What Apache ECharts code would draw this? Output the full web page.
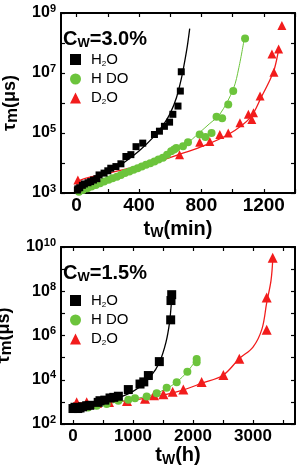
<!DOCTYPE html>
<html><head><meta charset="utf-8">
<script src="https://cdn.jsdelivr.net/npm/echarts@6/dist/echarts.min.js"></script>
<style>html,body{margin:0;padding:0;background:#fff}#c{width:301px;height:468px}</style>
</head><body><div id="c"></div>
<script>
// ---------- data: top panel (C_W = 3.0 %, t_w in min, tau in µs) ----------
var topH2O = [[5,1250],[8,1380],[20,1500],[37,1800],[50,2000],[73,2200],[90,2400],[108,2700],[130,3000],[144,4000],[176,4600],[200,5500],[219,6700],[252,7600],[284,9400],[316,16500],[348,19000],[381,35000],[424,46000],[499,89000],[531,115000],[563,167000],[596,230000],[617,420000],[650,790000],[665,2.5e6],[671,1.1e7]];
var topHDO = [[15,1100],[40,1250],[69,1440],[95,1650],[123,1860],[150,2100],[176,2400],[205,2750],[230,3100],[258,3500],[284,4000],[310,4600],[338,5200],[365,6000],[391,6700],[418,7700],[445,8700],[472,9900],[499,11200],[525,13000],[553,15000],[580,19000],[606,24500],[625,28000],[639,31500],[682,36000],[714,49000],[789,89000],[826,74000],[865,100000],[897,350000],[933,310000],[972,890000],[1004,2.5e6],[1080,1.4e8]];
var topD2O = [[8,2700],[660,19000],[789,49000],[854,52000],[918,89000],[972,100000],[1047,220000],[1101,420000],[1123,280000],[1134,470000],[1176,1.7e6],[1265,1.05e7],[1252,4.3e7],[1295,6.3e7],[1316,3.8e8]];
var topFitH2O = [[0,1200],[100,2400],[200,4800],[300,10000],[400,25000],[500,80000],[560,200000],[600,450000],[640,1.5e6],[670,6e6],[690,2e7],[710,8e7],[725,3e8]];
var topFitHDO = [[0,1000],[200,2600],[400,7000],[600,22000],[700,42000],[785,100000],[850,200000],[918,420000],[1004,2.9e6],[1040,1.5e7],[1075,1.4e8]];
var topFitD2O = [[0,2300],[50,3000],[150,4000],[300,6000],[500,10500],[640,18000],[800,35000],[972,89000],[1112,320000],[1187,1.7e6],[1240,6e6],[1270,1.5e7],[1295,6e7]];
var topXTicks = [0,200,400,600,800,1000,1200,1400];
var topXLabels = [0,400,800,1200];
var topYTicks = [1e3,1e4,1e5,1e6,1e7,1e8,1e9];
var topYLabels = [1e3,1e5,1e7,1e9];

// ---------- data: bottom panel (C_W = 1.5 %, t_w in h) ----------
var botH2O = [[0,500],[33,570],[80,500],[117,530],[160,600],[228,670],[280,700],[420,950],[450,1130],[530,1200],[617,1500],[680,1600],[756,1800],[922,3600],[1117,6400],[1180,8000],[1256,15500],[1439,66000],[1628,5.1e6],[1633,3.8e7],[1645,7e7]];
var botHDO = [[100,480],[250,560],[395,670],[562,800],[756,1130],[922,1250],[1033,1450],[1228,1740],[1395,2450],[1561,4300],[1728,7700],[1906,23000],[2061,62000],[2061,87000]];
var botD2O = [[61,960],[228,960],[400,900],[600,1000],[900,1100],[1200,1400],[1350,2000],[1506,2200],[1661,2900],[1839,3600],[2144,8000],[2506,16500],[2772,90000],[3228,1.8e6],[3228,5.2e7],[3328,3.3e9]];
var botFitH2O = [[0,450],[300,650],[600,1100],[900,2200],[1100,4500],[1300,15000],[1440,60000],[1550,500000],[1610,4e6],[1640,3e7],[1655,8e7]];
var botFitHDO = [[0,450],[500,750],[1000,1350],[1300,2000],[1560,4000],[1730,8000],[1900,22000],[2060,85000]];
var botFitD2O = [[0,900],[500,950],[1000,1200],[1500,2000],[1800,3200],[2150,7000],[2500,16000],[2772,90000],[3000,300000],[3150,2e6],[3228,3e7],[3300,3e8],[3330,3e9]];
var botXTicks = [0,500,1000,1500,2000,2500,3000,3500];
var botXLabels = [0,1000,2000,3000];
var botYTicks = [1e2,1e3,1e4,1e5,1e6,1e7,1e8,1e9,1e10];
var botYLabels = [1e2,1e4,1e6,1e8,1e10];

var seriesNames = ['H2O','HDO','D2O'];
var COL = {H2O:'#000000', HDO:'#6cc43c', D2O:'#f21c1c'};
var FONT = 'Liberation Sans, Arial, sans-serif';

var chart = echarts.init(document.getElementById('c'), null, {renderer:'canvas'});

function xAxisDef(gi, min, max, ticks, labels, fs, margin, name, gap, mirror) {
  return {
    type:'value', gridIndex:gi, min:min, max:max, position: mirror ? 'top' : 'bottom',
    splitLine:{show:false},
    axisLine:{show:true, onZero:false, lineStyle:{color:'#000', width:2}},
    axisTick:{show:true, inside:true, length:4, customValues:ticks, lineStyle:{color:'#000', width:1.2}},
    axisLabel:{show:!mirror, customValues:labels, margin:margin, color:'#000', fontFamily:FONT, fontWeight:'bold', fontSize:fs,
      formatter:function(v){ return String(v); }},
    name: mirror ? '' : name, nameLocation:'middle', nameGap: gap,
    nameTextStyle:{color:'#000', fontFamily:FONT, fontWeight:'bold', rich:{
      t:{fontSize:20, fontWeight:'bold', fontFamily:FONT, lineHeight:22, color:'#000'},
      s:{fontSize:14, fontWeight:'bold', fontFamily:FONT, lineHeight:12, verticalAlign:'bottom', color:'#000'}
    }}
  };
}
function yAxisDef(gi, min, max, ticks, labels, name, mirror) {
  return {
    type:'log', logBase:10, gridIndex:gi, min:min, max:max, position: mirror ? 'right' : 'left',
    splitLine:{show:false},
    axisLine:{show:true, onZero:false, lineStyle:{color:'#000', width:2}},
    axisTick:{show:true, inside:true, length:4, customValues:ticks, lineStyle:{color:'#000', width:1.2}},
    axisLabel:{show:!mirror, customValues:labels, margin:5,
      formatter:function(v){ var e = Math.round(Math.log10(v)); return '{b|10}{s|' + e + '}'; },
      rich:{
        b:{fontSize:16, fontWeight:'bold', fontFamily:FONT, color:'#000', lineHeight:20},
        s:{fontSize:11, fontWeight:'bold', fontFamily:FONT, color:'#000', lineHeight:11, verticalAlign:'top'}
      }},
    name: mirror ? '' : name, nameLocation:'middle', nameGap: 26, nameRotate:90,
    nameTextStyle:{rich:{
      t:{fontSize:18, fontWeight:'bold', fontFamily:FONT, lineHeight:22, color:'#000'},
      s:{fontSize:17, fontWeight:'bold', fontFamily:FONT, lineHeight:14, verticalAlign:'bottom', color:'#000'}
    }}
  };
}

var SYM = {H2O:'rect', HDO:'circle', D2O:'triangle'};
function scatter(name, data, xi, yi, size) {
  return {type:'scatter', name:name, data:data, xAxisIndex:xi, yAxisIndex:yi, symbol:SYM[name], symbolSize:size,
    itemStyle:{color:COL[name], opacity:1}, z:3};
}
function fit(name, data, xi, yi, w) {
  return {type:'line', name:name + ' fit', data:data, xAxisIndex:xi, yAxisIndex:yi, smooth:0.35, showSymbol:false,
    lineStyle:{color:COL[name], width:w}, z:2, silent:true};
}
function legendDef(top) {
  return {
    data: seriesNames, orient:'vertical', left:70, top:top, itemGap:4, itemWidth:11, itemHeight:11,
    selectedMode:false, padding:0,
    formatter:function(n){
      if (n === 'H2O') return '{p|}{t|H}{s|2}{t|O}';
      if (n === 'D2O') return '{p|}{t|D}{s|2}{t|O}';
      return '{p|}{t|H DO}';
    },
    textStyle:{rich:{
      p:{width:5},
      t:{fontSize:15, fontFamily:FONT, color:'#000', lineHeight:16},
      s:{fontSize:8, fontFamily:FONT, color:'#000', lineHeight:8, verticalAlign:'bottom'}
    }}
  };
}

var option = {
  animation:false,
  backgroundColor:'#fff',
  grid:[
    {left:61, top:13, width:234, height:180, containLabel:false, outerBoundsMode:'none'},
    {left:61, top:247, width:234, height:177, containLabel:false, outerBoundsMode:'none'}
  ],
  xAxis:[
    xAxisDef(0, -100, 1400, topXTicks, topXLabels, 19, 3, '{t|t}{s|W}{t|(min)}', 25, false),
    xAxisDef(0, -100, 1400, topXTicks, topXLabels, 19, 3, '', 25, true),
    xAxisDef(1, -200, 3700, botXTicks, botXLabels, 17, 4, '{t|t}{s|W}{t|(h)}', 14, false),
    xAxisDef(1, -200, 3700, botXTicks, botXLabels, 17, 4, '', 14, true)
  ],
  yAxis:[
    yAxisDef(0, 1e3, 1e9, topYTicks, topYLabels, '{t|τ}{s|m}{t|(μs)}', false),
    yAxisDef(0, 1e3, 1e9, topYTicks, topYLabels, '', true),
    yAxisDef(1, 1e2, 1e10, botYTicks, botYLabels, '{t|τ}{s|m}{t|(μs)}', false),
    yAxisDef(1, 1e2, 1e10, botYTicks, botYLabels, '', true)
  ],
  legend:[legendDef(52), legendDef(293)],
  graphic:[
    {type:'text', left:63, top:29, style:{text:'{a|C}{s|W}{a|=3.0%}', rich:{
      a:{fontSize:20, fontWeight:'bold', fontFamily:FONT, fill:'#000', lineHeight:22},
      s:{fontSize:13, fontWeight:'bold', fontFamily:FONT, fill:'#000', lineHeight:12, verticalAlign:'bottom'}}}},
    {type:'text', left:63, top:263, style:{text:'{a|C}{s|W}{a|=1.5%}', rich:{
      a:{fontSize:20, fontWeight:'bold', fontFamily:FONT, fill:'#000', lineHeight:22},
      s:{fontSize:13, fontWeight:'bold', fontFamily:FONT, fill:'#000', lineHeight:12, verticalAlign:'bottom'}}}}
  ],
  series:[
    fit('D2O', topFitD2O, 0, 0, 1.3),
    fit('HDO', topFitHDO, 0, 0, 1),
    fit('H2O', topFitH2O, 0, 0, 1.3),
    scatter('D2O', topD2O, 0, 0, 9),
    scatter('HDO', topHDO, 0, 0, 8),
    scatter('H2O', topH2O, 0, 0, 7),
    fit('D2O', botFitD2O, 2, 2, 1.3),
    fit('HDO', botFitHDO, 2, 2, 1),
    fit('H2O', botFitH2O, 2, 2, 1.3),
    scatter('D2O', botD2O, 2, 2, 10),
    scatter('HDO', botHDO, 2, 2, 8),
    scatter('H2O', botH2O, 2, 2, 9)
  ]
};
chart.setOption(option);
</script></body></html>
